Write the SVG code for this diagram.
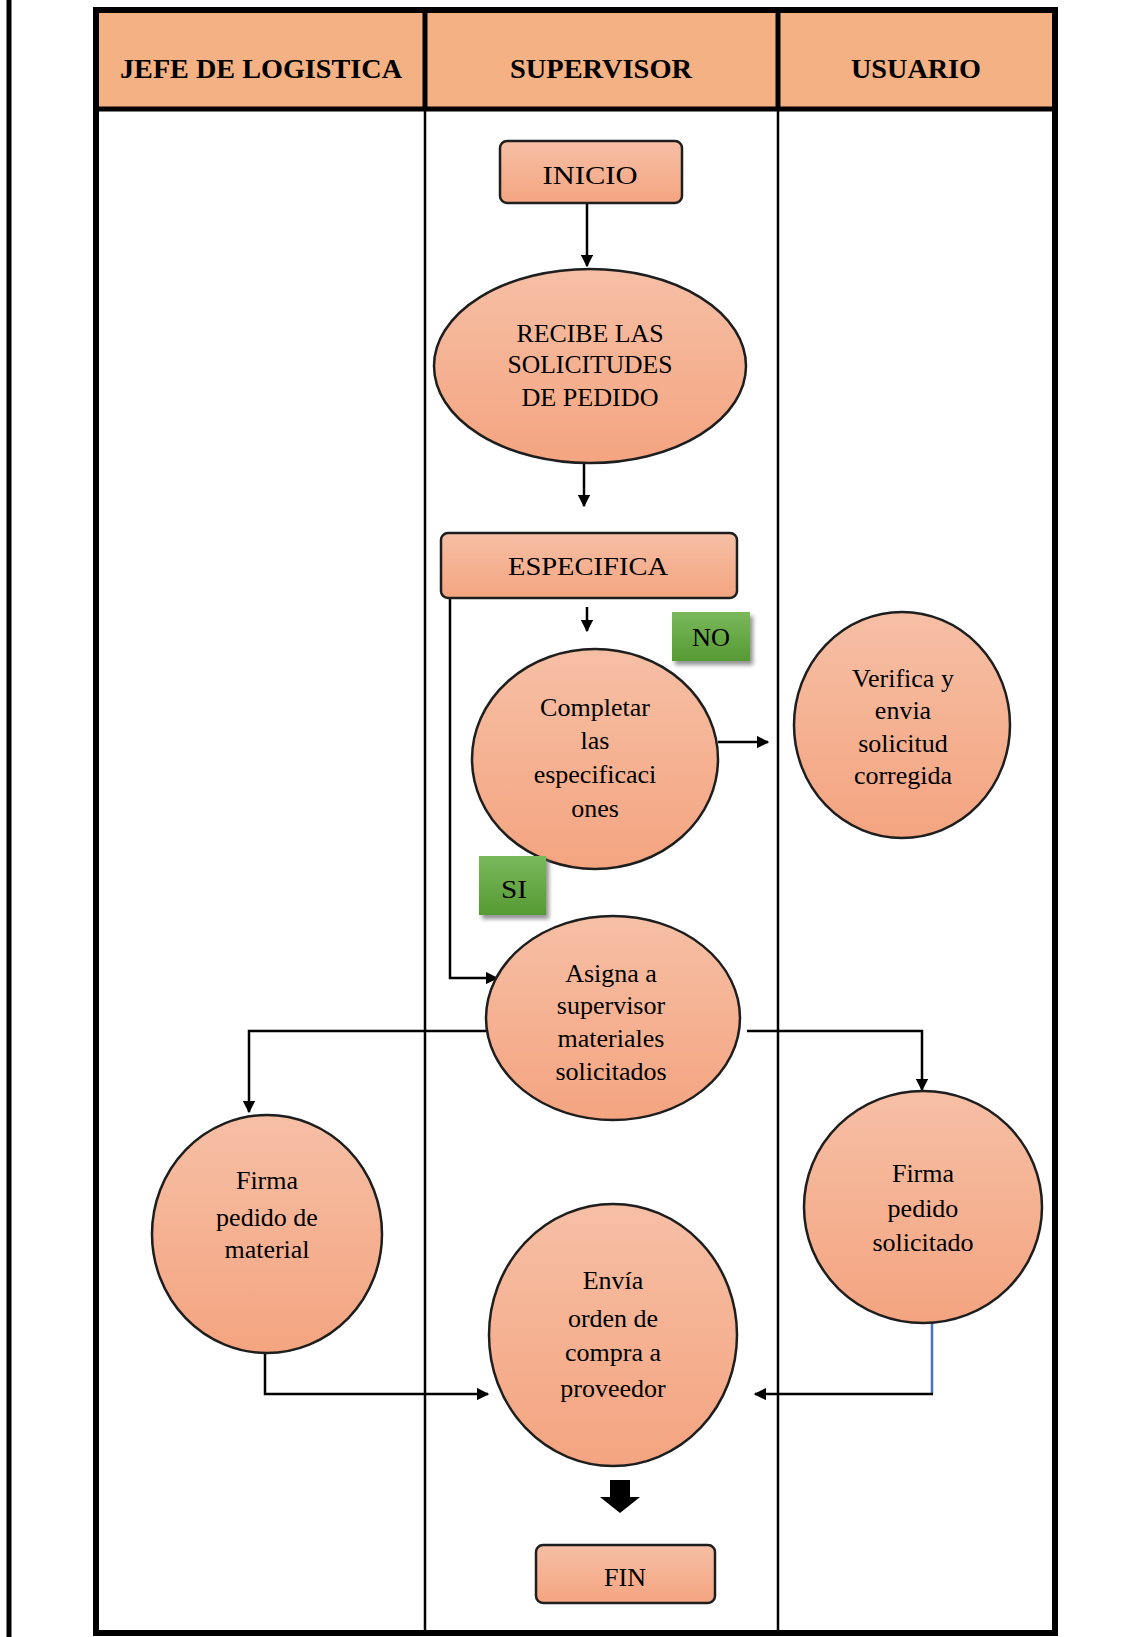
<svg xmlns="http://www.w3.org/2000/svg" width="1136" height="1637" viewBox="0 0 1136 1637">
<defs>
<linearGradient id="nodeFill" x1="0" y1="0" x2="0" y2="1">
<stop offset="0" stop-color="#F6BFA5"/>
<stop offset="1" stop-color="#F4A480"/>
</linearGradient>
<linearGradient id="greenFill" x1="0" y1="0" x2="0" y2="1">
<stop offset="0" stop-color="#7AB85C"/>
<stop offset="1" stop-color="#569A33"/>
</linearGradient>
<filter id="shadow" x="-20%" y="-20%" width="150%" height="150%">
<feGaussianBlur stdDeviation="2"/>
</filter>
<marker id="arrow" viewBox="0 0 10 10" refX="9" refY="5" markerWidth="5" markerHeight="5" orient="auto" markerUnits="strokeWidth">
<path d="M0,0 L10,5 L0,10 z" fill="#000"/>
</marker>
<style>
.node { fill: url(#nodeFill); stroke: #1e1e1e; stroke-width: 2.5; }
.txt { font-family: "Liberation Serif", "Times New Roman", serif; font-size: 26px; fill: #000; text-anchor: middle; }
.hdr { font-family: "Liberation Serif", "Times New Roman", serif; font-size: 27px; font-weight: bold; fill: #000; text-anchor: middle; }
.conn { fill: none; stroke: #000; stroke-width: 2.5; }
.green { fill: url(#greenFill); }
.shd { fill: #777; filter: url(#shadow); opacity: 0.8; }
</style>
</defs>
<rect x="0" y="0" width="1136" height="1637" fill="#fff"/>
<!-- left page line -->
<line x1="9" y1="0" x2="9" y2="1637" stroke="#000" stroke-width="5"/>
<!-- swimlane table -->
<g id="lanes">
<rect x="96" y="10" width="959" height="99" fill="#F4B183"/>
<line x1="425" y1="10" x2="425" y2="109" stroke="#000" stroke-width="5"/>
<line x1="778" y1="10" x2="778" y2="109" stroke="#000" stroke-width="5"/>
<line x1="425" y1="109" x2="425" y2="1633" stroke="#000" stroke-width="2.5"/>
<line x1="778" y1="109" x2="778" y2="1633" stroke="#000" stroke-width="2.5"/>
<line x1="96" y1="109" x2="1055" y2="109" stroke="#000" stroke-width="5"/>
<rect x="96" y="10" width="959" height="1623" fill="none" stroke="#000" stroke-width="6"/>
<text class="hdr" x="261" y="78" textLength="282" lengthAdjust="spacingAndGlyphs">JEFE DE LOGISTICA</text>
<text class="hdr" x="601" y="78" textLength="182" lengthAdjust="spacingAndGlyphs">SUPERVISOR</text>
<text class="hdr" x="916" y="78" textLength="130" lengthAdjust="spacingAndGlyphs">USUARIO</text>
</g>
<!-- connectors -->
<g id="connectors">
<line class="conn" x1="587" y1="203" x2="587" y2="266" marker-end="url(#arrow)"/>
<line class="conn" x1="584" y1="463" x2="584" y2="506" marker-end="url(#arrow)"/>
<line class="conn" x1="587" y1="607" x2="587" y2="631" marker-end="url(#arrow)"/>
<line class="conn" x1="718" y1="742" x2="768" y2="742" marker-end="url(#arrow)"/>
<polyline class="conn" points="450,598 450,978 497,978" marker-end="url(#arrow)"/>
<polyline class="conn" points="487,1031 249,1031 249,1112" marker-end="url(#arrow)"/>
<polyline class="conn" points="747,1031 922,1031 922,1090" marker-end="url(#arrow)"/>
<polyline class="conn" points="265,1353 265,1394 488,1394" marker-end="url(#arrow)"/>
<line x1="932" y1="1323" x2="932" y2="1394" stroke="#4472C4" stroke-width="2.5"/>
<line class="conn" x1="933" y1="1394" x2="755" y2="1394" marker-end="url(#arrow)"/>
<path d="M610,1480 L630,1480 L630,1497 L640,1497 L620,1513 L600,1497 L610,1497 Z" fill="#000"/>
</g>
<!-- nodes -->
<g id="inicio">
<rect class="node" x="500" y="141" width="182" height="62" rx="7"/>
<text class="txt" x="590" y="184" font-size="30" textLength="95" lengthAdjust="spacingAndGlyphs">INICIO</text>
</g>
<g id="recibe">
<ellipse class="node" cx="590" cy="366" rx="156" ry="97"/>
<text class="txt" x="590" y="342" textLength="147" lengthAdjust="spacingAndGlyphs">RECIBE LAS</text>
<text class="txt" x="590" y="373" textLength="165" lengthAdjust="spacingAndGlyphs">SOLICITUDES</text>
<text class="txt" x="590" y="406" textLength="137" lengthAdjust="spacingAndGlyphs">DE PEDIDO</text>
</g>
<g id="especifica">
<rect class="node" x="441" y="533" width="296" height="65" rx="7"/>
<text class="txt" x="588" y="575" font-size="28" textLength="160" lengthAdjust="spacingAndGlyphs">ESPECIFICA</text>
</g>
<g id="no">
<rect class="shd" x="675" y="616" width="78" height="49"/>
<rect class="green" x="672" y="612" width="78" height="49"/>
<text class="txt" x="711" y="646" textLength="38" lengthAdjust="spacingAndGlyphs">NO</text>
</g>
<g id="completar">
<ellipse class="node" cx="595" cy="759" rx="123" ry="110"/>
<text class="txt" x="595" y="716">Completar</text>
<text class="txt" x="595" y="749">las</text>
<text class="txt" x="595" y="783">especificaci</text>
<text class="txt" x="595" y="817">ones</text>
</g>
<g id="verifica">
<ellipse class="node" cx="902" cy="725" rx="108" ry="113"/>
<text class="txt" x="903" y="687">Verifica y</text>
<text class="txt" x="903" y="719">envia</text>
<text class="txt" x="903" y="752">solicitud</text>
<text class="txt" x="903" y="784">corregida</text>
</g>
<g id="si">
<rect class="shd" x="482" y="860" width="67" height="59"/>
<rect class="green" x="479" y="856" width="67" height="59"/>
<text class="txt" x="514" y="898" textLength="26" lengthAdjust="spacingAndGlyphs">SI</text>
</g>
<g id="asigna">
<ellipse class="node" cx="613" cy="1018" rx="127" ry="102"/>
<text class="txt" x="611" y="982">Asigna a</text>
<text class="txt" x="611" y="1014">supervisor</text>
<text class="txt" x="611" y="1047">materiales</text>
<text class="txt" x="611" y="1080">solicitados</text>
</g>
<g id="firma-material">
<ellipse class="node" cx="267" cy="1234" rx="115" ry="119"/>
<text class="txt" x="267" y="1189" font-size="28">Firma</text>
<text class="txt" x="267" y="1226" font-size="28">pedido de</text>
<text class="txt" x="267" y="1258" font-size="28">material</text>
</g>
<g id="firma-solicitado">
<ellipse class="node" cx="923" cy="1207" rx="119" ry="116"/>
<text class="txt" x="923" y="1182">Firma</text>
<text class="txt" x="923" y="1217">pedido</text>
<text class="txt" x="923" y="1251">solicitado</text>
</g>
<g id="envia">
<ellipse class="node" cx="613" cy="1335" rx="124" ry="131"/>
<text class="txt" x="613" y="1289" font-size="28">Envía</text>
<text class="txt" x="613" y="1327" font-size="28">orden de</text>
<text class="txt" x="613" y="1361" font-size="28">compra a</text>
<text class="txt" x="613" y="1397" font-size="28">proveedor</text>
</g>
<g id="fin">
<rect class="node" x="536" y="1545" width="179" height="58" rx="7"/>
<text class="txt" x="625" y="1586" font-size="28">FIN</text>
</g>
</svg>
